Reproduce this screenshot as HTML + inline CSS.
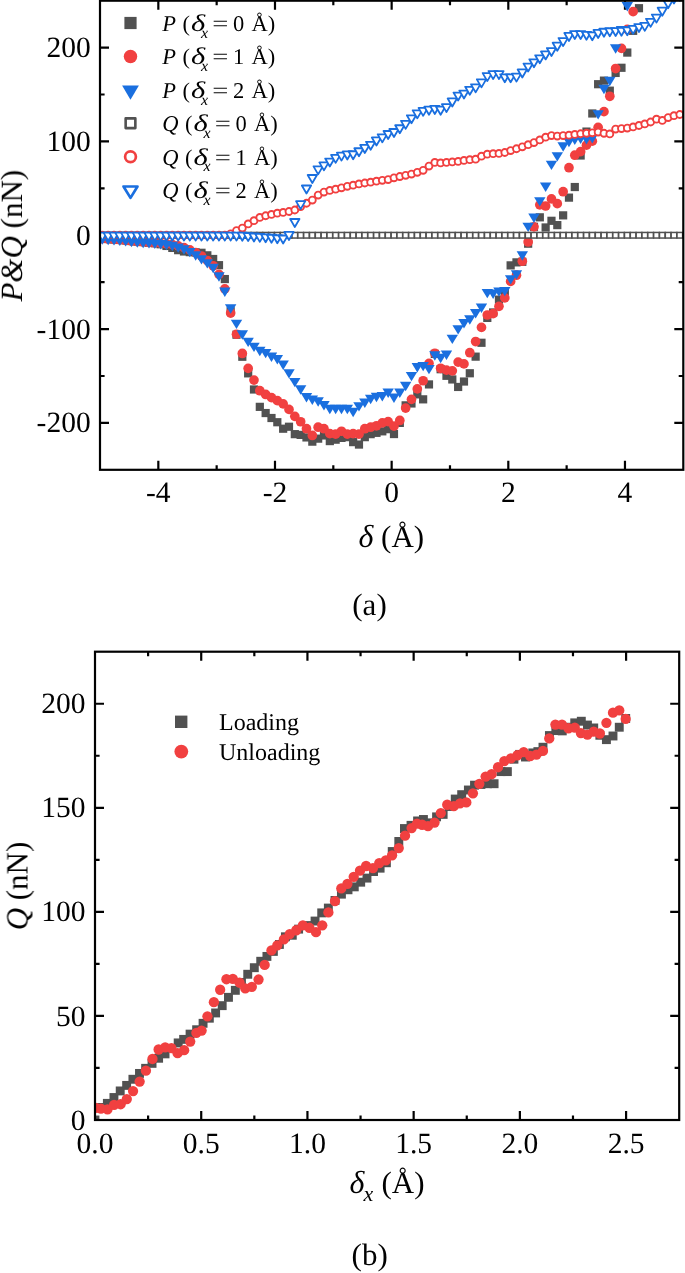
<!DOCTYPE html>
<html lang="en"><head><meta charset="utf-8"><title>Figure: P&amp;Q vs delta</title>
<style>html,body{margin:0;padding:0;background:#fff}svg{display:block}text{font-family:"Liberation Serif","Times New Roman",serif;fill:#000;text-rendering:geometricPrecision}.i{font-style:italic}</style></head><body>
<svg width="685" height="1273" viewBox="0 0 685 1273">
<rect width="685" height="1273" fill="#fff"/>
<g opacity="0.999">
<defs><clipPath id="ca"><rect x="100" y="0.7" width="583.3" height="469.1"/></clipPath><clipPath id="cb"><rect x="95" y="651.7" width="584.2" height="468.3"/></clipPath></defs>
<path d="M158.33 469.8v-9M158.33 0.7v9M274.99 469.8v-9M274.99 0.7v9M391.65 469.8v-9M391.65 0.7v9M508.31 469.8v-9M508.31 0.7v9M624.97 469.8v-9M624.97 0.7v9M216.66 469.8v-4.6M216.66 0.7v4.6M333.32 469.8v-4.6M333.32 0.7v4.6M449.98 469.8v-4.6M449.98 0.7v4.6M566.64 469.8v-4.6M566.64 0.7v4.6M100 422.89h9M683.3 422.89h-9M100 329.07h9M683.3 329.07h-9M100 235.25h9M683.3 235.25h-9M100 141.43h9M683.3 141.43h-9M100 47.61h9M683.3 47.61h-9M100 375.98h4.6M683.3 375.98h-4.6M100 282.16h4.6M683.3 282.16h-4.6M100 188.34h4.6M683.3 188.34h-4.6M100 94.52h4.6M683.3 94.52h-4.6" stroke="#000" stroke-width="2.2" fill="none"/>
<g clip-path="url(#ca)">
<g><rect x="98.23" y="234.53" width="8.2" height="8.2" fill="#515151"/><rect x="104.06" y="234.97" width="8.2" height="8.2" fill="#515151"/><rect x="109.9" y="235.4" width="8.2" height="8.2" fill="#515151"/><rect x="115.73" y="235.84" width="8.2" height="8.2" fill="#515151"/><rect x="121.56" y="236.4" width="8.2" height="8.2" fill="#515151"/><rect x="127.4" y="236.97" width="8.2" height="8.2" fill="#515151"/><rect x="133.23" y="237.48" width="8.2" height="8.2" fill="#515151"/><rect x="139.06" y="238" width="8.2" height="8.2" fill="#515151"/><rect x="144.89" y="238.61" width="8.2" height="8.2" fill="#515151"/><rect x="150.73" y="239.22" width="8.2" height="8.2" fill="#515151"/><rect x="156.56" y="240.16" width="8.2" height="8.2" fill="#515151"/><rect x="162.39" y="241.85" width="8.2" height="8.2" fill="#515151"/><rect x="168.23" y="243.82" width="8.2" height="8.2" fill="#515151"/><rect x="174.06" y="246.07" width="8.2" height="8.2" fill="#515151"/><rect x="179.89" y="247.38" width="8.2" height="8.2" fill="#515151"/><rect x="185.72" y="248.04" width="8.2" height="8.2" fill="#515151"/><rect x="191.56" y="248.32" width="8.2" height="8.2" fill="#515151"/><rect x="197.39" y="248.69" width="8.2" height="8.2" fill="#515151"/><rect x="203.22" y="251.23" width="8.2" height="8.2" fill="#515151"/><rect x="209.06" y="254.89" width="8.2" height="8.2" fill="#515151"/><rect x="214.89" y="261.08" width="8.2" height="8.2" fill="#515151"/><rect x="220.72" y="274.96" width="8.2" height="8.2" fill="#515151"/><rect x="226.56" y="307.14" width="8.2" height="8.2" fill="#515151"/><rect x="232.39" y="330.6" width="8.2" height="8.2" fill="#515151"/><rect x="238.22" y="352.65" width="8.2" height="8.2" fill="#515151"/><rect x="244.06" y="369.25" width="8.2" height="8.2" fill="#515151"/><rect x="249.89" y="385.39" width="8.2" height="8.2" fill="#515151"/><rect x="255.72" y="402.75" width="8.2" height="8.2" fill="#515151"/><rect x="261.55" y="408.94" width="8.2" height="8.2" fill="#515151"/><rect x="267.39" y="413.91" width="8.2" height="8.2" fill="#515151"/><rect x="273.22" y="418.13" width="8.2" height="8.2" fill="#515151"/><rect x="279.05" y="424.61" width="8.2" height="8.2" fill="#515151"/><rect x="284.89" y="422.64" width="8.2" height="8.2" fill="#515151"/><rect x="290.72" y="430.05" width="8.2" height="8.2" fill="#515151"/><rect x="296.55" y="430.8" width="8.2" height="8.2" fill="#515151"/><rect x="302.38" y="433.33" width="8.2" height="8.2" fill="#515151"/><rect x="308.22" y="437.55" width="8.2" height="8.2" fill="#515151"/><rect x="314.05" y="434.55" width="8.2" height="8.2" fill="#515151"/><rect x="319.88" y="431.36" width="8.2" height="8.2" fill="#515151"/><rect x="325.72" y="436.99" width="8.2" height="8.2" fill="#515151"/><rect x="331.55" y="435.58" width="8.2" height="8.2" fill="#515151"/><rect x="337.38" y="433.8" width="8.2" height="8.2" fill="#515151"/><rect x="343.22" y="433.05" width="8.2" height="8.2" fill="#515151"/><rect x="349.05" y="438.02" width="8.2" height="8.2" fill="#515151"/><rect x="354.88" y="440.46" width="8.2" height="8.2" fill="#515151"/><rect x="360.71" y="433.05" width="8.2" height="8.2" fill="#515151"/><rect x="366.55" y="430.05" width="8.2" height="8.2" fill="#515151"/><rect x="372.38" y="428.73" width="8.2" height="8.2" fill="#515151"/><rect x="378.21" y="427.23" width="8.2" height="8.2" fill="#515151"/><rect x="384.05" y="425.08" width="8.2" height="8.2" fill="#515151"/><rect x="389.88" y="429.95" width="8.2" height="8.2" fill="#515151"/><rect x="395.71" y="418.79" width="8.2" height="8.2" fill="#515151"/><rect x="401.55" y="401.25" width="8.2" height="8.2" fill="#515151"/><rect x="407.38" y="399.37" width="8.2" height="8.2" fill="#515151"/><rect x="413.21" y="390.27" width="8.2" height="8.2" fill="#515151"/><rect x="419.04" y="395.24" width="8.2" height="8.2" fill="#515151"/><rect x="424.88" y="380.32" width="8.2" height="8.2" fill="#515151"/><rect x="430.71" y="349.83" width="8.2" height="8.2" fill="#515151"/><rect x="436.54" y="365.12" width="8.2" height="8.2" fill="#515151"/><rect x="442.38" y="371.69" width="8.2" height="8.2" fill="#515151"/><rect x="448.21" y="375.35" width="8.2" height="8.2" fill="#515151"/><rect x="454.04" y="382.86" width="8.2" height="8.2" fill="#515151"/><rect x="459.88" y="377.42" width="8.2" height="8.2" fill="#515151"/><rect x="465.71" y="369.16" width="8.2" height="8.2" fill="#515151"/><rect x="471.54" y="352.55" width="8.2" height="8.2" fill="#515151"/><rect x="477.38" y="338.67" width="8.2" height="8.2" fill="#515151"/><rect x="483.21" y="313.81" width="8.2" height="8.2" fill="#515151"/><rect x="489.04" y="308.36" width="8.2" height="8.2" fill="#515151"/><rect x="494.87" y="295.51" width="8.2" height="8.2" fill="#515151"/><rect x="500.71" y="287.44" width="8.2" height="8.2" fill="#515151"/><rect x="506.54" y="261.27" width="8.2" height="8.2" fill="#515151"/><rect x="512.37" y="258.26" width="8.2" height="8.2" fill="#515151"/><rect x="518.21" y="257.7" width="8.2" height="8.2" fill="#515151"/><rect x="524.04" y="239.59" width="8.2" height="8.2" fill="#515151"/><rect x="529.87" y="222.71" width="8.2" height="8.2" fill="#515151"/><rect x="535.71" y="213.23" width="8.2" height="8.2" fill="#515151"/><rect x="541.54" y="223.36" width="8.2" height="8.2" fill="#515151"/><rect x="547.37" y="216.7" width="8.2" height="8.2" fill="#515151"/><rect x="553.2" y="221.02" width="8.2" height="8.2" fill="#515151"/><rect x="559.04" y="211.26" width="8.2" height="8.2" fill="#515151"/><rect x="564.87" y="193.53" width="8.2" height="8.2" fill="#515151"/><rect x="570.7" y="182.93" width="8.2" height="8.2" fill="#515151"/><rect x="576.54" y="151.4" width="8.2" height="8.2" fill="#515151"/><rect x="582.37" y="127.48" width="8.2" height="8.2" fill="#515151"/><rect x="588.2" y="109.37" width="8.2" height="8.2" fill="#515151"/><rect x="594.03" y="80.1" width="8.2" height="8.2" fill="#515151"/><rect x="599.87" y="76.53" width="8.2" height="8.2" fill="#515151"/><rect x="605.7" y="86.57" width="8.2" height="8.2" fill="#515151"/><rect x="611.53" y="68.84" width="8.2" height="8.2" fill="#515151"/><rect x="617.37" y="63.68" width="8.2" height="8.2" fill="#515151"/><rect x="623.2" y="48.48" width="8.2" height="8.2" fill="#515151"/><rect x="629.03" y="26.72" width="8.2" height="8.2" fill="#515151"/><rect x="634.87" y="4.11" width="8.2" height="8.2" fill="#515151"/></g>
<g><circle cx="102.33" cy="238.63" r="4.85" fill="#F14040"/><circle cx="108.16" cy="239.07" r="4.85" fill="#F14040"/><circle cx="114" cy="239.5" r="4.85" fill="#F14040"/><circle cx="119.83" cy="239.94" r="4.85" fill="#F14040"/><circle cx="125.66" cy="240.5" r="4.85" fill="#F14040"/><circle cx="131.5" cy="241.07" r="4.85" fill="#F14040"/><circle cx="137.33" cy="241.58" r="4.85" fill="#F14040"/><circle cx="143.16" cy="242.1" r="4.85" fill="#F14040"/><circle cx="148.99" cy="242.51" r="4.85" fill="#F14040"/><circle cx="154.83" cy="242.91" r="4.85" fill="#F14040"/><circle cx="160.66" cy="243.32" r="4.85" fill="#F14040"/><circle cx="166.49" cy="243.88" r="4.85" fill="#F14040"/><circle cx="172.33" cy="244.63" r="4.85" fill="#F14040"/><circle cx="178.16" cy="245.85" r="4.85" fill="#F14040"/><circle cx="183.99" cy="247.63" r="4.85" fill="#F14040"/><circle cx="189.82" cy="249.89" r="4.85" fill="#F14040"/><circle cx="195.66" cy="252.61" r="4.85" fill="#F14040"/><circle cx="201.49" cy="255.98" r="4.85" fill="#F14040"/><circle cx="207.32" cy="260.49" r="4.85" fill="#F14040"/><circle cx="213.16" cy="265.74" r="4.85" fill="#F14040"/><circle cx="218.99" cy="274.37" r="4.85" fill="#F14040"/><circle cx="224.82" cy="288.92" r="4.85" fill="#F14040"/><circle cx="230.66" cy="313.03" r="4.85" fill="#F14040"/><circle cx="236.49" cy="334.23" r="4.85" fill="#F14040"/><circle cx="242.32" cy="353.46" r="4.85" fill="#F14040"/><circle cx="248.16" cy="368.38" r="4.85" fill="#F14040"/><circle cx="253.99" cy="380.11" r="4.85" fill="#F14040"/><circle cx="259.82" cy="390.71" r="4.85" fill="#F14040"/><circle cx="265.65" cy="394.46" r="4.85" fill="#F14040"/><circle cx="271.49" cy="397.65" r="4.85" fill="#F14040"/><circle cx="277.32" cy="400.65" r="4.85" fill="#F14040"/><circle cx="283.15" cy="403.94" r="4.85" fill="#F14040"/><circle cx="288.99" cy="409.38" r="4.85" fill="#F14040"/><circle cx="294.82" cy="416.32" r="4.85" fill="#F14040"/><circle cx="300.65" cy="421.76" r="4.85" fill="#F14040"/><circle cx="306.49" cy="428.71" r="4.85" fill="#F14040"/><circle cx="312.32" cy="435.46" r="4.85" fill="#F14040"/><circle cx="318.15" cy="427.21" r="4.85" fill="#F14040"/><circle cx="323.98" cy="428.71" r="4.85" fill="#F14040"/><circle cx="329.82" cy="433.68" r="4.85" fill="#F14040"/><circle cx="335.65" cy="434.15" r="4.85" fill="#F14040"/><circle cx="341.48" cy="431.24" r="4.85" fill="#F14040"/><circle cx="347.32" cy="434.15" r="4.85" fill="#F14040"/><circle cx="353.15" cy="433.68" r="4.85" fill="#F14040"/><circle cx="358.98" cy="434.15" r="4.85" fill="#F14040"/><circle cx="364.81" cy="428.71" r="4.85" fill="#F14040"/><circle cx="370.65" cy="427.21" r="4.85" fill="#F14040"/><circle cx="376.48" cy="425.8" r="4.85" fill="#F14040"/><circle cx="382.31" cy="422.89" r="4.85" fill="#F14040"/><circle cx="388.15" cy="421.67" r="4.85" fill="#F14040"/><circle cx="393.98" cy="426.17" r="4.85" fill="#F14040"/><circle cx="399.81" cy="420.45" r="4.85" fill="#F14040"/><circle cx="405.65" cy="408.07" r="4.85" fill="#F14040"/><circle cx="411.48" cy="399.34" r="4.85" fill="#F14040"/><circle cx="417.31" cy="388.93" r="4.85" fill="#F14040"/><circle cx="423.14" cy="380.76" r="4.85" fill="#F14040"/><circle cx="428.98" cy="363.31" r="4.85" fill="#F14040"/><circle cx="434.81" cy="353.28" r="4.85" fill="#F14040"/><circle cx="440.64" cy="368.29" r="4.85" fill="#F14040"/><circle cx="446.48" cy="370.07" r="4.85" fill="#F14040"/><circle cx="452.31" cy="370.82" r="4.85" fill="#F14040"/><circle cx="458.14" cy="362.09" r="4.85" fill="#F14040"/><circle cx="463.98" cy="363.88" r="4.85" fill="#F14040"/><circle cx="469.81" cy="352.71" r="4.85" fill="#F14040"/><circle cx="475.64" cy="341.55" r="4.85" fill="#F14040"/><circle cx="481.48" cy="327.38" r="4.85" fill="#F14040"/><circle cx="487.31" cy="315" r="4.85" fill="#F14040"/><circle cx="493.14" cy="313.68" r="4.85" fill="#F14040"/><circle cx="498.97" cy="306.37" r="4.85" fill="#F14040"/><circle cx="504.81" cy="297.92" r="4.85" fill="#F14040"/><circle cx="510.64" cy="281.41" r="4.85" fill="#F14040"/><circle cx="516.47" cy="275.22" r="4.85" fill="#F14040"/><circle cx="522.31" cy="261.24" r="4.85" fill="#F14040"/><circle cx="528.14" cy="242.01" r="4.85" fill="#F14040"/><circle cx="533.97" cy="226.81" r="4.85" fill="#F14040"/><circle cx="539.81" cy="204.85" r="4.85" fill="#F14040"/><circle cx="545.64" cy="205.98" r="4.85" fill="#F14040"/><circle cx="551.47" cy="198.94" r="4.85" fill="#F14040"/><circle cx="557.3" cy="203.63" r="4.85" fill="#F14040"/><circle cx="563.14" cy="191.72" r="4.85" fill="#F14040"/><circle cx="568.97" cy="167.7" r="4.85" fill="#F14040"/><circle cx="574.8" cy="155.22" r="4.85" fill="#F14040"/><circle cx="580.64" cy="151.66" r="4.85" fill="#F14040"/><circle cx="586.47" cy="145.18" r="4.85" fill="#F14040"/><circle cx="592.3" cy="141.15" r="4.85" fill="#F14040"/><circle cx="598.13" cy="127.36" r="4.85" fill="#F14040"/><circle cx="603.97" cy="111.69" r="4.85" fill="#F14040"/><circle cx="609.8" cy="96.3" r="4.85" fill="#F14040"/><circle cx="615.63" cy="68.53" r="4.85" fill="#F14040"/><circle cx="621.47" cy="48.36" r="4.85" fill="#F14040"/><circle cx="627.3" cy="29.32" r="4.85" fill="#F14040"/><circle cx="633.13" cy="11.68" r="4.85" fill="#F14040"/></g>
<g><path d="M96.63 235.31h11.4l-5.7 9.4z" fill="#1A6FDF"/><path d="M102.46 235.74h11.4l-5.7 9.4z" fill="#1A6FDF"/><path d="M108.3 236.18h11.4l-5.7 9.4z" fill="#1A6FDF"/><path d="M114.13 236.62h11.4l-5.7 9.4z" fill="#1A6FDF"/><path d="M119.96 237.18h11.4l-5.7 9.4z" fill="#1A6FDF"/><path d="M125.8 237.75h11.4l-5.7 9.4z" fill="#1A6FDF"/><path d="M131.63 238.26h11.4l-5.7 9.4z" fill="#1A6FDF"/><path d="M137.46 238.78h11.4l-5.7 9.4z" fill="#1A6FDF"/><path d="M143.29 239.22h11.4l-5.7 9.4z" fill="#1A6FDF"/><path d="M149.13 239.65h11.4l-5.7 9.4z" fill="#1A6FDF"/><path d="M154.96 240.09h11.4l-5.7 9.4z" fill="#1A6FDF"/><path d="M160.79 240.84h11.4l-5.7 9.4z" fill="#1A6FDF"/><path d="M166.63 241.87h11.4l-5.7 9.4z" fill="#1A6FDF"/><path d="M172.46 243.38h11.4l-5.7 9.4z" fill="#1A6FDF"/><path d="M178.29 245.35h11.4l-5.7 9.4z" fill="#1A6FDF"/><path d="M184.12 247.97h11.4l-5.7 9.4z" fill="#1A6FDF"/><path d="M189.96 251.26h11.4l-5.7 9.4z" fill="#1A6FDF"/><path d="M195.79 255.2h11.4l-5.7 9.4z" fill="#1A6FDF"/><path d="M201.62 259.14h11.4l-5.7 9.4z" fill="#1A6FDF"/><path d="M207.46 263.73h11.4l-5.7 9.4z" fill="#1A6FDF"/><path d="M213.29 272.37h11.4l-5.7 9.4z" fill="#1A6FDF"/><path d="M219.12 287.56h11.4l-5.7 9.4z" fill="#1A6FDF"/><path d="M224.96 304.36h11.4l-5.7 9.4z" fill="#1A6FDF"/><path d="M230.79 319.65h11.4l-5.7 9.4z" fill="#1A6FDF"/><path d="M236.62 330.25h11.4l-5.7 9.4z" fill="#1A6FDF"/><path d="M242.46 337.66h11.4l-5.7 9.4z" fill="#1A6FDF"/><path d="M248.29 342.64h11.4l-5.7 9.4z" fill="#1A6FDF"/><path d="M254.12 346.86h11.4l-5.7 9.4z" fill="#1A6FDF"/><path d="M259.95 348.92h11.4l-5.7 9.4z" fill="#1A6FDF"/><path d="M265.79 352.58h11.4l-5.7 9.4z" fill="#1A6FDF"/><path d="M271.62 355.11h11.4l-5.7 9.4z" fill="#1A6FDF"/><path d="M277.45 360.56h11.4l-5.7 9.4z" fill="#1A6FDF"/><path d="M283.29 369.19h11.4l-5.7 9.4z" fill="#1A6FDF"/><path d="M289.12 377.91h11.4l-5.7 9.4z" fill="#1A6FDF"/><path d="M294.95 385.32h11.4l-5.7 9.4z" fill="#1A6FDF"/><path d="M300.79 393.02h11.4l-5.7 9.4z" fill="#1A6FDF"/><path d="M306.62 395.55h11.4l-5.7 9.4z" fill="#1A6FDF"/><path d="M312.45 397.24h11.4l-5.7 9.4z" fill="#1A6FDF"/><path d="M318.28 400.99h11.4l-5.7 9.4z" fill="#1A6FDF"/><path d="M324.12 404.75h11.4l-5.7 9.4z" fill="#1A6FDF"/><path d="M329.95 404.75h11.4l-5.7 9.4z" fill="#1A6FDF"/><path d="M335.78 404.75h11.4l-5.7 9.4z" fill="#1A6FDF"/><path d="M341.62 404.75h11.4l-5.7 9.4z" fill="#1A6FDF"/><path d="M347.45 407.75h11.4l-5.7 9.4z" fill="#1A6FDF"/><path d="M353.28 402.21h11.4l-5.7 9.4z" fill="#1A6FDF"/><path d="M359.12 398.55h11.4l-5.7 9.4z" fill="#1A6FDF"/><path d="M364.95 394.8h11.4l-5.7 9.4z" fill="#1A6FDF"/><path d="M370.78 392.83h11.4l-5.7 9.4z" fill="#1A6FDF"/><path d="M376.61 392.08h11.4l-5.7 9.4z" fill="#1A6FDF"/><path d="M382.45 388.51h11.4l-5.7 9.4z" fill="#1A6FDF"/><path d="M388.28 393.49h11.4l-5.7 9.4z" fill="#1A6FDF"/><path d="M394.11 388.51h11.4l-5.7 9.4z" fill="#1A6FDF"/><path d="M399.95 381.85h11.4l-5.7 9.4z" fill="#1A6FDF"/><path d="M405.78 371.91h11.4l-5.7 9.4z" fill="#1A6FDF"/><path d="M411.61 363h11.4l-5.7 9.4z" fill="#1A6FDF"/><path d="M417.44 361.96h11.4l-5.7 9.4z" fill="#1A6FDF"/><path d="M423.28 364.97h11.4l-5.7 9.4z" fill="#1A6FDF"/><path d="M429.11 351.27h11.4l-5.7 9.4z" fill="#1A6FDF"/><path d="M434.94 353.8h11.4l-5.7 9.4z" fill="#1A6FDF"/><path d="M440.78 350.52h11.4l-5.7 9.4z" fill="#1A6FDF"/><path d="M446.61 334.66h11.4l-5.7 9.4z" fill="#1A6FDF"/><path d="M452.44 325.19h11.4l-5.7 9.4z" fill="#1A6FDF"/><path d="M458.28 318.99h11.4l-5.7 9.4z" fill="#1A6FDF"/><path d="M464.11 315.34h11.4l-5.7 9.4z" fill="#1A6FDF"/><path d="M469.94 309.05h11.4l-5.7 9.4z" fill="#1A6FDF"/><path d="M475.78 303.61h11.4l-5.7 9.4z" fill="#1A6FDF"/><path d="M481.61 288.88h11.4l-5.7 9.4z" fill="#1A6FDF"/><path d="M487.44 289.53h11.4l-5.7 9.4z" fill="#1A6FDF"/><path d="M493.27 287.47h11.4l-5.7 9.4z" fill="#1A6FDF"/><path d="M499.11 286.91h11.4l-5.7 9.4z" fill="#1A6FDF"/><path d="M504.94 275.18h11.4l-5.7 9.4z" fill="#1A6FDF"/><path d="M510.77 270.21h11.4l-5.7 9.4z" fill="#1A6FDF"/><path d="M516.61 251.26h11.4l-5.7 9.4z" fill="#1A6FDF"/><path d="M522.44 222.64h11.4l-5.7 9.4z" fill="#1A6FDF"/><path d="M528.27 213.54h11.4l-5.7 9.4z" fill="#1A6FDF"/><path d="M534.11 197.22h11.4l-5.7 9.4z" fill="#1A6FDF"/><path d="M539.94 182.58h11.4l-5.7 9.4z" fill="#1A6FDF"/><path d="M545.77 160.63h11.4l-5.7 9.4z" fill="#1A6FDF"/><path d="M551.6 152.18h11.4l-5.7 9.4z" fill="#1A6FDF"/><path d="M557.44 142.24h11.4l-5.7 9.4z" fill="#1A6FDF"/><path d="M563.27 137.83h11.4l-5.7 9.4z" fill="#1A6FDF"/><path d="M569.1 135.48h11.4l-5.7 9.4z" fill="#1A6FDF"/><path d="M574.94 134.54h11.4l-5.7 9.4z" fill="#1A6FDF"/><path d="M580.77 135.01h11.4l-5.7 9.4z" fill="#1A6FDF"/><path d="M586.6 133.98h11.4l-5.7 9.4z" fill="#1A6FDF"/><path d="M592.43 110.15h11.4l-5.7 9.4z" fill="#1A6FDF"/><path d="M598.27 84.82h11.4l-5.7 9.4z" fill="#1A6FDF"/><path d="M604.1 76.84h11.4l-5.7 9.4z" fill="#1A6FDF"/><path d="M609.93 44.29h11.4l-5.7 9.4z" fill="#1A6FDF"/><path d="M615.77 26.09h11.4l-5.7 9.4z" fill="#1A6FDF"/><path d="M621.6 2.07h11.4l-5.7 9.4z" fill="#1A6FDF"/></g>
<g fill="#fff" stroke="#515151" stroke-width="1.5"><rect x="99.53" y="232.45" width="5.6" height="5.6"/><rect x="105.36" y="232.45" width="5.6" height="5.6"/><rect x="111.2" y="232.45" width="5.6" height="5.6"/><rect x="117.03" y="232.45" width="5.6" height="5.6"/><rect x="122.86" y="232.45" width="5.6" height="5.6"/><rect x="128.69" y="232.45" width="5.6" height="5.6"/><rect x="134.53" y="232.45" width="5.6" height="5.6"/><rect x="140.36" y="232.45" width="5.6" height="5.6"/><rect x="146.19" y="232.45" width="5.6" height="5.6"/><rect x="152.03" y="232.45" width="5.6" height="5.6"/><rect x="157.86" y="232.45" width="5.6" height="5.6"/><rect x="163.69" y="232.45" width="5.6" height="5.6"/><rect x="169.53" y="232.45" width="5.6" height="5.6"/><rect x="175.36" y="232.45" width="5.6" height="5.6"/><rect x="181.19" y="232.45" width="5.6" height="5.6"/><rect x="187.02" y="232.45" width="5.6" height="5.6"/><rect x="192.86" y="232.45" width="5.6" height="5.6"/><rect x="198.69" y="232.45" width="5.6" height="5.6"/><rect x="204.52" y="232.45" width="5.6" height="5.6"/><rect x="210.36" y="232.45" width="5.6" height="5.6"/><rect x="216.19" y="232.45" width="5.6" height="5.6"/><rect x="222.02" y="232.45" width="5.6" height="5.6"/><rect x="227.86" y="232.45" width="5.6" height="5.6"/><rect x="233.69" y="232.45" width="5.6" height="5.6"/><rect x="239.52" y="232.45" width="5.6" height="5.6"/><rect x="245.36" y="232.45" width="5.6" height="5.6"/><rect x="251.19" y="232.45" width="5.6" height="5.6"/><rect x="257.02" y="232.45" width="5.6" height="5.6"/><rect x="262.85" y="232.45" width="5.6" height="5.6"/><rect x="268.69" y="232.45" width="5.6" height="5.6"/><rect x="274.52" y="232.45" width="5.6" height="5.6"/><rect x="280.35" y="232.45" width="5.6" height="5.6"/><rect x="286.19" y="232.45" width="5.6" height="5.6"/><rect x="292.02" y="232.45" width="5.6" height="5.6"/><rect x="297.85" y="232.45" width="5.6" height="5.6"/><rect x="303.69" y="232.45" width="5.6" height="5.6"/><rect x="309.52" y="232.45" width="5.6" height="5.6"/><rect x="315.35" y="232.45" width="5.6" height="5.6"/><rect x="321.18" y="232.45" width="5.6" height="5.6"/><rect x="327.02" y="232.45" width="5.6" height="5.6"/><rect x="332.85" y="232.45" width="5.6" height="5.6"/><rect x="338.68" y="232.45" width="5.6" height="5.6"/><rect x="344.52" y="232.45" width="5.6" height="5.6"/><rect x="350.35" y="232.45" width="5.6" height="5.6"/><rect x="356.18" y="232.45" width="5.6" height="5.6"/><rect x="362.01" y="232.45" width="5.6" height="5.6"/><rect x="367.85" y="232.45" width="5.6" height="5.6"/><rect x="373.68" y="232.45" width="5.6" height="5.6"/><rect x="379.51" y="232.45" width="5.6" height="5.6"/><rect x="385.35" y="232.45" width="5.6" height="5.6"/><rect x="391.18" y="232.45" width="5.6" height="5.6"/><rect x="397.01" y="232.45" width="5.6" height="5.6"/><rect x="402.85" y="232.45" width="5.6" height="5.6"/><rect x="408.68" y="232.45" width="5.6" height="5.6"/><rect x="414.51" y="232.45" width="5.6" height="5.6"/><rect x="420.34" y="232.45" width="5.6" height="5.6"/><rect x="426.18" y="232.45" width="5.6" height="5.6"/><rect x="432.01" y="232.45" width="5.6" height="5.6"/><rect x="437.84" y="232.45" width="5.6" height="5.6"/><rect x="443.68" y="232.45" width="5.6" height="5.6"/><rect x="449.51" y="232.45" width="5.6" height="5.6"/><rect x="455.34" y="232.45" width="5.6" height="5.6"/><rect x="461.18" y="232.45" width="5.6" height="5.6"/><rect x="467.01" y="232.45" width="5.6" height="5.6"/><rect x="472.84" y="232.45" width="5.6" height="5.6"/><rect x="478.68" y="232.45" width="5.6" height="5.6"/><rect x="484.51" y="232.45" width="5.6" height="5.6"/><rect x="490.34" y="232.45" width="5.6" height="5.6"/><rect x="496.17" y="232.45" width="5.6" height="5.6"/><rect x="502.01" y="232.45" width="5.6" height="5.6"/><rect x="507.84" y="232.45" width="5.6" height="5.6"/><rect x="513.67" y="232.45" width="5.6" height="5.6"/><rect x="519.51" y="232.45" width="5.6" height="5.6"/><rect x="525.34" y="232.45" width="5.6" height="5.6"/><rect x="531.17" y="232.45" width="5.6" height="5.6"/><rect x="537.01" y="232.45" width="5.6" height="5.6"/><rect x="542.84" y="232.45" width="5.6" height="5.6"/><rect x="548.67" y="232.45" width="5.6" height="5.6"/><rect x="554.5" y="232.45" width="5.6" height="5.6"/><rect x="560.34" y="232.45" width="5.6" height="5.6"/><rect x="566.17" y="232.45" width="5.6" height="5.6"/><rect x="572" y="232.45" width="5.6" height="5.6"/><rect x="577.84" y="232.45" width="5.6" height="5.6"/><rect x="583.67" y="232.45" width="5.6" height="5.6"/><rect x="589.5" y="232.45" width="5.6" height="5.6"/><rect x="595.34" y="232.45" width="5.6" height="5.6"/><rect x="601.17" y="232.45" width="5.6" height="5.6"/><rect x="607" y="232.45" width="5.6" height="5.6"/><rect x="612.83" y="232.45" width="5.6" height="5.6"/><rect x="618.67" y="232.45" width="5.6" height="5.6"/><rect x="624.5" y="232.45" width="5.6" height="5.6"/><rect x="630.33" y="232.45" width="5.6" height="5.6"/><rect x="636.17" y="232.45" width="5.6" height="5.6"/><rect x="642" y="232.45" width="5.6" height="5.6"/><rect x="647.83" y="232.45" width="5.6" height="5.6"/><rect x="653.67" y="232.45" width="5.6" height="5.6"/><rect x="659.5" y="232.45" width="5.6" height="5.6"/><rect x="665.33" y="232.45" width="5.6" height="5.6"/><rect x="671.16" y="232.45" width="5.6" height="5.6"/><rect x="677" y="232.45" width="5.6" height="5.6"/></g>
<g fill="#fff" stroke="#F14040" stroke-width="1.9"><circle cx="102.33" cy="235.25" r="3.45"/><circle cx="108.16" cy="235.25" r="3.45"/><circle cx="114" cy="235.25" r="3.45"/><circle cx="119.83" cy="235.25" r="3.45"/><circle cx="125.66" cy="235.25" r="3.45"/><circle cx="131.5" cy="235.25" r="3.45"/><circle cx="137.33" cy="235.25" r="3.45"/><circle cx="143.16" cy="235.25" r="3.45"/><circle cx="148.99" cy="235.25" r="3.45"/><circle cx="154.83" cy="235.25" r="3.45"/><circle cx="160.66" cy="235.25" r="3.45"/><circle cx="166.49" cy="235.25" r="3.45"/><circle cx="172.33" cy="235.25" r="3.45"/><circle cx="178.16" cy="235.25" r="3.45"/><circle cx="183.99" cy="235.25" r="3.45"/><circle cx="189.82" cy="235.25" r="3.45"/><circle cx="195.66" cy="235.25" r="3.45"/><circle cx="201.49" cy="235.25" r="3.45"/><circle cx="207.32" cy="235.25" r="3.45"/><circle cx="213.16" cy="235.25" r="3.45"/><circle cx="218.99" cy="235.25" r="3.45"/><circle cx="224.82" cy="235.25" r="3.45"/><circle cx="230.66" cy="233.84" r="3.45"/><circle cx="236.49" cy="230.56" r="3.45"/><circle cx="242.32" cy="228.12" r="3.45"/><circle cx="248.16" cy="223.9" r="3.45"/><circle cx="253.99" cy="220.71" r="3.45"/><circle cx="259.82" cy="217.42" r="3.45"/><circle cx="265.65" cy="215.74" r="3.45"/><circle cx="271.49" cy="214.42" r="3.45"/><circle cx="277.32" cy="213.2" r="3.45"/><circle cx="283.15" cy="212.45" r="3.45"/><circle cx="288.99" cy="211.51" r="3.45"/><circle cx="294.82" cy="210.01" r="3.45"/><circle cx="300.65" cy="206.54" r="3.45"/><circle cx="306.49" cy="203.26" r="3.45"/><circle cx="312.32" cy="200.07" r="3.45"/><circle cx="318.15" cy="195.1" r="3.45"/><circle cx="323.98" cy="192.09" r="3.45"/><circle cx="329.82" cy="190.4" r="3.45"/><circle cx="335.65" cy="189.18" r="3.45"/><circle cx="341.48" cy="187.87" r="3.45"/><circle cx="347.32" cy="186.37" r="3.45"/><circle cx="353.15" cy="185.15" r="3.45"/><circle cx="358.98" cy="183.93" r="3.45"/><circle cx="364.81" cy="182.99" r="3.45"/><circle cx="370.65" cy="182.15" r="3.45"/><circle cx="376.48" cy="181.21" r="3.45"/><circle cx="382.31" cy="180.37" r="3.45"/><circle cx="388.15" cy="179.61" r="3.45"/><circle cx="393.98" cy="177.83" r="3.45"/><circle cx="399.81" cy="176.52" r="3.45"/><circle cx="405.65" cy="175.3" r="3.45"/><circle cx="411.48" cy="174.08" r="3.45"/><circle cx="417.31" cy="172.3" r="3.45"/><circle cx="423.14" cy="170.33" r="3.45"/><circle cx="428.98" cy="166.1" r="3.45"/><circle cx="434.81" cy="162.45" r="3.45"/><circle cx="440.64" cy="162.91" r="3.45"/><circle cx="446.48" cy="162.45" r="3.45"/><circle cx="452.31" cy="161.88" r="3.45"/><circle cx="458.14" cy="161.41" r="3.45"/><circle cx="463.98" cy="160.38" r="3.45"/><circle cx="469.81" cy="159.72" r="3.45"/><circle cx="475.64" cy="159.16" r="3.45"/><circle cx="481.48" cy="156.16" r="3.45"/><circle cx="487.31" cy="154.19" r="3.45"/><circle cx="493.14" cy="153.72" r="3.45"/><circle cx="498.97" cy="153.44" r="3.45"/><circle cx="504.81" cy="152.5" r="3.45"/><circle cx="510.64" cy="150.53" r="3.45"/><circle cx="516.47" cy="148.75" r="3.45"/><circle cx="522.31" cy="146.78" r="3.45"/><circle cx="528.14" cy="144.71" r="3.45"/><circle cx="533.97" cy="142.56" r="3.45"/><circle cx="539.81" cy="139.93" r="3.45"/><circle cx="545.64" cy="137.21" r="3.45"/><circle cx="551.47" cy="135.61" r="3.45"/><circle cx="557.3" cy="136.08" r="3.45"/><circle cx="563.14" cy="135.61" r="3.45"/><circle cx="568.97" cy="135.14" r="3.45"/><circle cx="574.8" cy="134.39" r="3.45"/><circle cx="580.64" cy="133.74" r="3.45"/><circle cx="586.47" cy="133.27" r="3.45"/><circle cx="592.3" cy="132.8" r="3.45"/><circle cx="598.13" cy="132.05" r="3.45"/><circle cx="603.97" cy="133.27" r="3.45"/><circle cx="609.8" cy="133.92" r="3.45"/><circle cx="615.63" cy="129.05" r="3.45"/><circle cx="621.47" cy="128.58" r="3.45"/><circle cx="627.3" cy="128.11" r="3.45"/><circle cx="633.13" cy="126.89" r="3.45"/><circle cx="638.97" cy="125.48" r="3.45"/><circle cx="644.8" cy="123.89" r="3.45"/><circle cx="650.63" cy="122.01" r="3.45"/><circle cx="656.47" cy="119.19" r="3.45"/><circle cx="662.3" cy="120.41" r="3.45"/><circle cx="668.13" cy="117.6" r="3.45"/><circle cx="673.96" cy="115.72" r="3.45"/><circle cx="679.8" cy="114.5" r="3.45"/></g>
<g fill="#fff" stroke="#1A6FDF" stroke-width="1.8" stroke-linejoin="round"><path d="M97.68 232.6h9.3l-4.65 8z"/><path d="M103.51 232.6h9.3l-4.65 8z"/><path d="M109.35 232.6h9.3l-4.65 8z"/><path d="M115.18 232.6h9.3l-4.65 8z"/><path d="M121.01 232.6h9.3l-4.65 8z"/><path d="M126.84 232.6h9.3l-4.65 8z"/><path d="M132.68 232.6h9.3l-4.65 8z"/><path d="M138.51 232.6h9.3l-4.65 8z"/><path d="M144.34 232.6h9.3l-4.65 8z"/><path d="M150.18 232.6h9.3l-4.65 8z"/><path d="M156.01 232.6h9.3l-4.65 8z"/><path d="M161.84 232.6h9.3l-4.65 8z"/><path d="M167.68 232.6h9.3l-4.65 8z"/><path d="M173.51 232.6h9.3l-4.65 8z"/><path d="M179.34 232.6h9.3l-4.65 8z"/><path d="M185.17 232.6h9.3l-4.65 8z"/><path d="M191.01 232.6h9.3l-4.65 8z"/><path d="M196.84 232.6h9.3l-4.65 8z"/><path d="M202.67 232.6h9.3l-4.65 8z"/><path d="M208.51 232.6h9.3l-4.65 8z"/><path d="M214.34 232.6h9.3l-4.65 8z"/><path d="M220.17 232.6h9.3l-4.65 8z"/><path d="M226.01 232.6h9.3l-4.65 8z"/><path d="M231.84 232.6h9.3l-4.65 8z"/><path d="M237.67 232.69h9.3l-4.65 8z"/><path d="M243.51 233.09h9.3l-4.65 8z"/><path d="M249.34 233.49h9.3l-4.65 8z"/><path d="M255.17 233.89h9.3l-4.65 8z"/><path d="M261 234.29h9.3l-4.65 8z"/><path d="M266.84 234.76h9.3l-4.65 8z"/><path d="M272.67 235.23h9.3l-4.65 8z"/><path d="M278.5 235.51h9.3l-4.65 8z"/><path d="M284.34 231.94h9.3l-4.65 8z"/><path d="M290.17 218.99h9.3l-4.65 8z"/><path d="M296 201.17h9.3l-4.65 8z"/><path d="M301.84 185.5h9.3l-4.65 8z"/><path d="M307.67 174.99h9.3l-4.65 8z"/><path d="M313.5 166.36h9.3l-4.65 8z"/><path d="M319.33 162.42h9.3l-4.65 8z"/><path d="M325.17 158.57h9.3l-4.65 8z"/><path d="M331 154.92h9.3l-4.65 8z"/><path d="M336.83 152.66h9.3l-4.65 8z"/><path d="M342.67 151.44h9.3l-4.65 8z"/><path d="M348.5 151.26h9.3l-4.65 8z"/><path d="M354.33 148.25h9.3l-4.65 8z"/><path d="M360.17 144.97h9.3l-4.65 8z"/><path d="M366 141.78h9.3l-4.65 8z"/><path d="M371.83 137.47h9.3l-4.65 8z"/><path d="M377.66 134.37h9.3l-4.65 8z"/><path d="M383.5 130.99h9.3l-4.65 8z"/><path d="M389.33 129.02h9.3l-4.65 8z"/><path d="M395.16 125.27h9.3l-4.65 8z"/><path d="M401 120.86h9.3l-4.65 8z"/><path d="M406.83 115.32h9.3l-4.65 8z"/><path d="M412.66 110.35h9.3l-4.65 8z"/><path d="M418.5 107.91h9.3l-4.65 8z"/><path d="M424.33 106.69h9.3l-4.65 8z"/><path d="M430.16 105.94h9.3l-4.65 8z"/><path d="M435.99 106.69h9.3l-4.65 8z"/><path d="M441.83 104.16h9.3l-4.65 8z"/><path d="M447.66 98.44h9.3l-4.65 8z"/><path d="M453.49 92.53h9.3l-4.65 8z"/><path d="M459.33 90.56h9.3l-4.65 8z"/><path d="M465.16 86.8h9.3l-4.65 8z"/><path d="M470.99 84.36h9.3l-4.65 8z"/><path d="M476.83 79.39h9.3l-4.65 8z"/><path d="M482.66 73.1h9.3l-4.65 8z"/><path d="M488.49 71.13h9.3l-4.65 8z"/><path d="M494.32 71.13h9.3l-4.65 8z"/><path d="M500.16 74.32h9.3l-4.65 8z"/><path d="M505.99 74.32h9.3l-4.65 8z"/><path d="M511.82 73.67h9.3l-4.65 8z"/><path d="M517.66 69.45h9.3l-4.65 8z"/><path d="M523.49 63.53h9.3l-4.65 8z"/><path d="M529.32 59.31h9.3l-4.65 8z"/><path d="M535.16 55.28h9.3l-4.65 8z"/><path d="M540.99 51.43h9.3l-4.65 8z"/><path d="M546.82 48.05h9.3l-4.65 8z"/><path d="M552.65 42.71h9.3l-4.65 8z"/><path d="M558.49 38.11h9.3l-4.65 8z"/><path d="M564.32 32.95h9.3l-4.65 8z"/><path d="M570.15 31.07h9.3l-4.65 8z"/><path d="M575.99 31.07h9.3l-4.65 8z"/><path d="M581.82 31.82h9.3l-4.65 8z"/><path d="M587.65 32.29h9.3l-4.65 8z"/><path d="M593.49 29.95h9.3l-4.65 8z"/><path d="M599.32 28.73h9.3l-4.65 8z"/><path d="M605.15 28.26h9.3l-4.65 8z"/><path d="M610.98 28.07h9.3l-4.65 8z"/><path d="M616.82 27.79h9.3l-4.65 8z"/><path d="M622.65 27.23h9.3l-4.65 8z"/><path d="M628.48 25.91h9.3l-4.65 8z"/><path d="M634.32 24.04h9.3l-4.65 8z"/><path d="M640.15 22.91h9.3l-4.65 8z"/><path d="M645.98 18.88h9.3l-4.65 8z"/><path d="M651.82 14.65h9.3l-4.65 8z"/><path d="M657.65 7.71h9.3l-4.65 8z"/><path d="M663.48 0.21h9.3l-4.65 8z"/><path d="M669.31 -4.48h9.3l-4.65 8z"/><path d="M675.15 -7.3h9.3l-4.65 8z"/></g>
</g>
<rect x="100" y="0.7" width="583.3" height="469.1" fill="none" stroke="#000" stroke-width="2.2"/>
<g font-size="29.5" text-anchor="middle">
<text x="158.33" y="502.3">-4</text>
<text x="274.99" y="502.3">-2</text>
<text x="391.65" y="502.3">0</text>
<text x="508.31" y="502.3">2</text>
<text x="624.97" y="502.3">4</text>
</g>
<g font-size="29.5" text-anchor="end">
<text x="90.7" y="432.49">-200</text>
<text x="90.7" y="338.67">-100</text>
<text x="90.7" y="244.85">0</text>
<text x="90.7" y="151.03">100</text>
<text x="90.7" y="57.21">200</text>
</g>
<text font-size="32" class="i" x="358.6" y="547.2">δ</text>
<text font-size="31" x="381.1" y="547.2">(Å)</text>
<text font-size="31" text-anchor="middle" transform="translate(22 235.7) rotate(-90)"><tspan class="i">P&amp;Q</tspan> (nN)</text>
<text font-size="31" text-anchor="middle" x="369.5" y="614.6">(a)</text>
<rect x="124.4" y="16.9" width="12.2" height="12.2" fill="#515151"/>
<text font-size="22.5" y="30.8"><tspan class="i" x="162.3">P</tspan><tspan x="182.5">(</tspan><tspan x="233.1">0</tspan><tspan x="251.6">Å)</tspan></text>
<text font-size="24" class="i" transform="translate(190.9 30.8) scale(1.27 1)">δ</text>
<text font-size="16" class="i" x="201.1" y="37.6">x</text>
<text font-size="22.5" transform="translate(212.3 30.8) scale(1.27 1)">=</text>
<circle cx="130.5" cy="56.45" r="6.75" fill="#F14040"/>
<text font-size="22.5" y="64.25"><tspan class="i" x="162.3">P</tspan><tspan x="182.5">(</tspan><tspan x="233.1">1</tspan><tspan x="251.6">Å)</tspan></text>
<text font-size="24" class="i" transform="translate(190.9 64.25) scale(1.27 1)">δ</text>
<text font-size="16" class="i" x="201.1" y="71.05">x</text>
<text font-size="22.5" transform="translate(212.3 64.25) scale(1.27 1)">=</text>
<path d="M122.1 85.43h16.8l-8.4 14.3z" fill="#1A6FDF"/>
<text font-size="22.5" y="97.7"><tspan class="i" x="162.3">P</tspan><tspan x="182.5">(</tspan><tspan x="233.1">2</tspan><tspan x="251.6">Å)</tspan></text>
<text font-size="24" class="i" transform="translate(190.9 97.7) scale(1.27 1)">δ</text>
<text font-size="16" class="i" x="201.1" y="104.5">x</text>
<text font-size="22.5" transform="translate(212.3 97.7) scale(1.27 1)">=</text>
<rect x="125.65" y="118.4" width="9.7" height="9.7" fill="#fff" stroke="#515151" stroke-width="2.6" stroke-linejoin="round"/>
<text font-size="22.5" y="131.15"><tspan class="i" x="162.3">Q</tspan><tspan x="185">(</tspan><tspan x="235.6">0</tspan><tspan x="254.1">Å)</tspan></text>
<text font-size="24" class="i" transform="translate(193.4 131.15) scale(1.27 1)">δ</text>
<text font-size="16" class="i" x="203.6" y="137.95">x</text>
<text font-size="22.5" transform="translate(214.8 131.15) scale(1.27 1)">=</text>
<circle cx="130.5" cy="156.7" r="5.4" fill="#fff" stroke="#F14040" stroke-width="2.7"/>
<text font-size="22.5" y="164.6"><tspan class="i" x="162.3">Q</tspan><tspan x="185">(</tspan><tspan x="235.6">1</tspan><tspan x="254.1">Å)</tspan></text>
<text font-size="24" class="i" transform="translate(193.4 164.6) scale(1.27 1)">δ</text>
<text font-size="16" class="i" x="203.6" y="171.4">x</text>
<text font-size="22.5" transform="translate(214.8 164.6) scale(1.27 1)">=</text>
<path d="M123.5 186.5h14l-7 11.4z" fill="#fff" stroke="#1A6FDF" stroke-width="2.7" stroke-linejoin="round"/>
<text font-size="22.5" y="198.05"><tspan class="i" x="162.3">Q</tspan><tspan x="185">(</tspan><tspan x="235.6">2</tspan><tspan x="254.1">Å)</tspan></text>
<text font-size="24" class="i" transform="translate(193.4 198.05) scale(1.27 1)">δ</text>
<text font-size="16" class="i" x="203.6" y="204.85">x</text>
<text font-size="22.5" transform="translate(214.8 198.05) scale(1.27 1)">=</text>
<path d="M201.22 1120v-9M201.22 651.7v9M307.44 1120v-9M307.44 651.7v9M413.65 1120v-9M413.65 651.7v9M519.87 1120v-9M519.87 651.7v9M626.09 1120v-9M626.09 651.7v9M148.11 1120v-4.6M148.11 651.7v4.6M254.33 1120v-4.6M254.33 651.7v4.6M360.55 1120v-4.6M360.55 651.7v4.6M466.76 1120v-4.6M466.76 651.7v4.6M572.98 1120v-4.6M572.98 651.7v4.6M95 1015.93h9M679.2 1015.93h-9M95 911.87h9M679.2 911.87h-9M95 807.8h9M679.2 807.8h-9M95 703.73h9M679.2 703.73h-9M95 1067.97h4.6M679.2 1067.97h-4.6M95 963.9h4.6M679.2 963.9h-4.6M95 859.83h4.6M679.2 859.83h-4.6M95 755.77h4.6M679.2 755.77h-4.6" stroke="#000" stroke-width="2.2" fill="none"/>
<g clip-path="url(#cb)">
<g><rect x="90.51" y="1115.55" width="8.9" height="8.9" fill="#515151"/><rect x="96.94" y="1103" width="8.9" height="8.9" fill="#515151"/><rect x="102.92" y="1098.91" width="8.9" height="8.9" fill="#515151"/><rect x="109.49" y="1093.07" width="8.9" height="8.9" fill="#515151"/><rect x="115.77" y="1086.5" width="8.9" height="8.9" fill="#515151"/><rect x="122.19" y="1080.95" width="8.9" height="8.9" fill="#515151"/><rect x="128.47" y="1074.82" width="8.9" height="8.9" fill="#515151"/><rect x="135.04" y="1068.98" width="8.9" height="8.9" fill="#515151"/><rect x="141.17" y="1063.87" width="8.9" height="8.9" fill="#515151"/><rect x="147.59" y="1058.91" width="8.9" height="8.9" fill="#515151"/><rect x="154.16" y="1053.8" width="8.9" height="8.9" fill="#515151"/><rect x="160.59" y="1049.42" width="8.9" height="8.9" fill="#515151"/><rect x="167.01" y="1044.02" width="8.9" height="8.9" fill="#515151"/><rect x="173.73" y="1038.47" width="8.9" height="8.9" fill="#515151"/><rect x="179.2" y="1034.92" width="8.9" height="8.9" fill="#515151"/><rect x="185.62" y="1029.67" width="8.9" height="8.9" fill="#515151"/><rect x="192.19" y="1025.29" width="8.9" height="8.9" fill="#515151"/><rect x="198.62" y="1018.86" width="8.9" height="8.9" fill="#515151"/><rect x="204.89" y="1013.75" width="8.9" height="8.9" fill="#515151"/><rect x="211.17" y="1008.5" width="8.9" height="8.9" fill="#515151"/><rect x="217.74" y="1001.2" width="8.9" height="8.9" fill="#515151"/><rect x="224.02" y="992.88" width="8.9" height="8.9" fill="#515151"/><rect x="230.88" y="985.87" width="8.9" height="8.9" fill="#515151"/><rect x="237.01" y="977.99" width="8.9" height="8.9" fill="#515151"/><rect x="243.29" y="969.81" width="8.9" height="8.9" fill="#515151"/><rect x="249.86" y="963.24" width="8.9" height="8.9" fill="#515151"/><rect x="256.28" y="956.82" width="8.9" height="8.9" fill="#515151"/><rect x="262.48" y="951.96" width="8.9" height="8.9" fill="#515151"/><rect x="268.92" y="946.95" width="8.9" height="8.9" fill="#515151"/><rect x="274.95" y="940" width="8.9" height="8.9" fill="#515151"/><rect x="280.98" y="932.34" width="8.9" height="8.9" fill="#515151"/><rect x="287.83" y="930.8" width="8.9" height="8.9" fill="#515151"/><rect x="294.16" y="924.67" width="8.9" height="8.9" fill="#515151"/><rect x="302.34" y="921.1" width="8.9" height="8.9" fill="#515151"/><rect x="310.61" y="916.6" width="8.9" height="8.9" fill="#515151"/><rect x="317.26" y="908.43" width="8.9" height="8.9" fill="#515151"/><rect x="323.9" y="903.62" width="8.9" height="8.9" fill="#515151"/><rect x="330.55" y="895.99" width="8.9" height="8.9" fill="#515151"/><rect x="336.97" y="889.71" width="8.9" height="8.9" fill="#515151"/><rect x="343.54" y="885.33" width="8.9" height="8.9" fill="#515151"/><rect x="349.82" y="882.41" width="8.9" height="8.9" fill="#515151"/><rect x="356.24" y="877.74" width="8.9" height="8.9" fill="#515151"/><rect x="362.52" y="873.65" width="8.9" height="8.9" fill="#515151"/><rect x="369.09" y="867.08" width="8.9" height="8.9" fill="#515151"/><rect x="375.66" y="863.73" width="8.9" height="8.9" fill="#515151"/><rect x="381.94" y="858.32" width="8.9" height="8.9" fill="#515151"/><rect x="387.78" y="847.08" width="8.9" height="8.9" fill="#515151"/><rect x="394.35" y="837.01" width="8.9" height="8.9" fill="#515151"/><rect x="400" y="824.09" width="8.9" height="8.9" fill="#515151"/><rect x="406.57" y="820.88" width="8.9" height="8.9" fill="#515151"/><rect x="413.14" y="816.5" width="8.9" height="8.9" fill="#515151"/><rect x="418.98" y="815.04" width="8.9" height="8.9" fill="#515151"/><rect x="424.24" y="818.4" width="8.9" height="8.9" fill="#515151"/><rect x="432.12" y="812.41" width="8.9" height="8.9" fill="#515151"/><rect x="438.69" y="809.93" width="8.9" height="8.9" fill="#515151"/><rect x="444.67" y="802.05" width="8.9" height="8.9" fill="#515151"/><rect x="450.81" y="794.6" width="8.9" height="8.9" fill="#515151"/><rect x="457.23" y="790.22" width="8.9" height="8.9" fill="#515151"/><rect x="463.94" y="785.55" width="8.9" height="8.9" fill="#515151"/><rect x="470.08" y="780.73" width="8.9" height="8.9" fill="#515151"/><rect x="476.5" y="780" width="8.9" height="8.9" fill="#515151"/><rect x="483.07" y="779.27" width="8.9" height="8.9" fill="#515151"/><rect x="489.64" y="779.27" width="8.9" height="8.9" fill="#515151"/><rect x="496.5" y="767.16" width="8.9" height="8.9" fill="#515151"/><rect x="502.92" y="767.16" width="8.9" height="8.9" fill="#515151"/><rect x="509.49" y="754.75" width="8.9" height="8.9" fill="#515151"/><rect x="515.19" y="749.93" width="8.9" height="8.9" fill="#515151"/><rect x="521.02" y="752.56" width="8.9" height="8.9" fill="#515151"/><rect x="528.32" y="748.47" width="8.9" height="8.9" fill="#515151"/><rect x="533.43" y="747.16" width="8.9" height="8.9" fill="#515151"/><rect x="538.54" y="742.78" width="8.9" height="8.9" fill="#515151"/><rect x="544.97" y="731.1" width="8.9" height="8.9" fill="#515151"/><rect x="551.39" y="726.13" width="8.9" height="8.9" fill="#515151"/><rect x="557.81" y="726.43" width="8.9" height="8.9" fill="#515151"/><rect x="564.02" y="722.78" width="8.9" height="8.9" fill="#515151"/><rect x="570.29" y="718.4" width="8.9" height="8.9" fill="#515151"/><rect x="576.86" y="716.79" width="8.9" height="8.9" fill="#515151"/><rect x="583" y="720.59" width="8.9" height="8.9" fill="#515151"/><rect x="589.27" y="723.51" width="8.9" height="8.9" fill="#515151"/><rect x="595.4" y="730.81" width="8.9" height="8.9" fill="#515151"/><rect x="601.97" y="735.19" width="8.9" height="8.9" fill="#515151"/><rect x="608.54" y="731.54" width="8.9" height="8.9" fill="#515151"/><rect x="614.82" y="722.78" width="8.9" height="8.9" fill="#515151"/><rect x="621.24" y="714.02" width="8.9" height="8.9" fill="#515151"/></g>
<g><circle cx="95.84" cy="1107.88" r="5.15" fill="#F14040"/><circle cx="100.95" cy="1108.61" r="5.15" fill="#F14040"/><circle cx="107.52" cy="1109.34" r="5.15" fill="#F14040"/><circle cx="114.09" cy="1104.96" r="5.15" fill="#F14040"/><circle cx="120.66" cy="1104.23" r="5.15" fill="#F14040"/><circle cx="126.79" cy="1099.12" r="5.15" fill="#F14040"/><circle cx="133.07" cy="1091.09" r="5.15" fill="#F14040"/><circle cx="139.64" cy="1081.61" r="5.15" fill="#F14040"/><circle cx="145.91" cy="1070.66" r="5.15" fill="#F14040"/><circle cx="152.48" cy="1058.98" r="5.15" fill="#F14040"/><circle cx="158.61" cy="1049.49" r="5.15" fill="#F14040"/><circle cx="165.18" cy="1047.3" r="5.15" fill="#F14040"/><circle cx="171.46" cy="1048.03" r="5.15" fill="#F14040"/><circle cx="177.59" cy="1053.14" r="5.15" fill="#F14040"/><circle cx="184.16" cy="1050.22" r="5.15" fill="#F14040"/><circle cx="190.22" cy="1041.56" r="5.15" fill="#F14040"/><circle cx="196.35" cy="1032.8" r="5.15" fill="#F14040"/><circle cx="201.61" cy="1030.61" r="5.15" fill="#F14040"/><circle cx="207.45" cy="1016.31" r="5.15" fill="#F14040"/><circle cx="213.87" cy="1002.15" r="5.15" fill="#F14040"/><circle cx="220.15" cy="989.74" r="5.15" fill="#F14040"/><circle cx="226.42" cy="979.23" r="5.15" fill="#F14040"/><circle cx="232.85" cy="978.79" r="5.15" fill="#F14040"/><circle cx="239.56" cy="982.73" r="5.15" fill="#F14040"/><circle cx="245.26" cy="988.28" r="5.15" fill="#F14040"/><circle cx="251.82" cy="986.82" r="5.15" fill="#F14040"/><circle cx="258.54" cy="979.52" r="5.15" fill="#F14040"/><circle cx="264.67" cy="964.92" r="5.15" fill="#F14040"/><circle cx="271.46" cy="950.39" r="5.15" fill="#F14040"/><circle cx="277.3" cy="945.28" r="5.15" fill="#F14040"/><circle cx="283.87" cy="939.45" r="5.15" fill="#F14040"/><circle cx="289.71" cy="934.04" r="5.15" fill="#F14040"/><circle cx="296.28" cy="930.25" r="5.15" fill="#F14040"/><circle cx="302.85" cy="925.28" r="5.15" fill="#F14040"/><circle cx="309.42" cy="927.77" r="5.15" fill="#F14040"/><circle cx="315.99" cy="932.15" r="5.15" fill="#F14040"/><circle cx="322.26" cy="925.28" r="5.15" fill="#F14040"/><circle cx="328.39" cy="912.44" r="5.15" fill="#F14040"/><circle cx="334.96" cy="901.05" r="5.15" fill="#F14040"/><circle cx="341.28" cy="888.47" r="5.15" fill="#F14040"/><circle cx="347.41" cy="883.8" r="5.15" fill="#F14040"/><circle cx="353.69" cy="876.79" r="5.15" fill="#F14040"/><circle cx="359.96" cy="870.66" r="5.15" fill="#F14040"/><circle cx="366.09" cy="865.99" r="5.15" fill="#F14040"/><circle cx="372.96" cy="868.03" r="5.15" fill="#F14040"/><circle cx="379.23" cy="863.07" r="5.15" fill="#F14040"/><circle cx="385.8" cy="860.44" r="5.15" fill="#F14040"/><circle cx="392.08" cy="855.33" r="5.15" fill="#F14040"/><circle cx="398.76" cy="848.1" r="5.15" fill="#F14040"/><circle cx="405.04" cy="835.69" r="5.15" fill="#F14040"/><circle cx="411.61" cy="828.1" r="5.15" fill="#F14040"/><circle cx="417.01" cy="823.72" r="5.15" fill="#F14040"/><circle cx="422.12" cy="824.74" r="5.15" fill="#F14040"/><circle cx="427.96" cy="826.2" r="5.15" fill="#F14040"/><circle cx="434.53" cy="822.55" r="5.15" fill="#F14040"/><circle cx="440.8" cy="813.07" r="5.15" fill="#F14040"/><circle cx="447.23" cy="804.74" r="5.15" fill="#F14040"/><circle cx="453.8" cy="806.2" r="5.15" fill="#F14040"/><circle cx="460.07" cy="803.28" r="5.15" fill="#F14040"/><circle cx="466.35" cy="802.41" r="5.15" fill="#F14040"/><circle cx="472.92" cy="793.36" r="5.15" fill="#F14040"/><circle cx="479.34" cy="783.87" r="5.15" fill="#F14040"/><circle cx="485.62" cy="776.57" r="5.15" fill="#F14040"/><circle cx="491.61" cy="774.23" r="5.15" fill="#F14040"/><circle cx="498.03" cy="767.23" r="5.15" fill="#F14040"/><circle cx="504.31" cy="761.09" r="5.15" fill="#F14040"/><circle cx="510.88" cy="758.47" r="5.15" fill="#F14040"/><circle cx="517.45" cy="755.26" r="5.15" fill="#F14040"/><circle cx="523.72" cy="752.04" r="5.15" fill="#F14040"/><circle cx="530.15" cy="755.99" r="5.15" fill="#F14040"/><circle cx="536.42" cy="754.53" r="5.15" fill="#F14040"/><circle cx="542.99" cy="750.88" r="5.15" fill="#F14040"/><circle cx="549.27" cy="738.47" r="5.15" fill="#F14040"/><circle cx="555.4" cy="724.6" r="5.15" fill="#F14040"/><circle cx="561.97" cy="724.6" r="5.15" fill="#F14040"/><circle cx="568.47" cy="728.25" r="5.15" fill="#F14040"/><circle cx="574.74" cy="727.66" r="5.15" fill="#F14040"/><circle cx="580.88" cy="733.07" r="5.15" fill="#F14040"/><circle cx="587.45" cy="734.53" r="5.15" fill="#F14040"/><circle cx="593.72" cy="731.61" r="5.15" fill="#F14040"/><circle cx="599.85" cy="733.5" r="5.15" fill="#F14040"/><circle cx="606.42" cy="722.85" r="5.15" fill="#F14040"/><circle cx="612.99" cy="712.63" r="5.15" fill="#F14040"/><circle cx="619.27" cy="710.44" r="5.15" fill="#F14040"/><circle cx="625.69" cy="718.91" r="5.15" fill="#F14040"/></g>
</g>
<rect x="95" y="651.7" width="584.2" height="468.3" fill="none" stroke="#000" stroke-width="2.2"/>
<g font-size="29.5" text-anchor="middle">
<text x="95" y="1152.8">0.0</text>
<text x="201.22" y="1152.8">0.5</text>
<text x="307.44" y="1152.8">1.0</text>
<text x="413.65" y="1152.8">1.5</text>
<text x="519.87" y="1152.8">2.0</text>
<text x="626.09" y="1152.8">2.5</text>
</g>
<g font-size="29.5" text-anchor="end">
<text x="85.4" y="1129.6">0</text>
<text x="85.4" y="1025.53">50</text>
<text x="85.4" y="921.47">100</text>
<text x="85.4" y="817.4">150</text>
<text x="85.4" y="713.33">200</text>
</g>
<text font-size="32" class="i" x="349.5" y="1193.2">δ</text>
<text font-size="22" class="i" x="363.6" y="1200.6">x</text>
<text font-size="31" x="381.5" y="1193.2">(Å)</text>
<text font-size="31" text-anchor="middle" transform="translate(27.5 886) rotate(-90)"><tspan class="i">Q</tspan> (nN)</text>
<text font-size="31" text-anchor="middle" x="369.7" y="1265.2">(b)</text>
<rect x="175" y="715.6" width="12.4" height="12.4" fill="#515151"/>
<circle cx="181.3" cy="751.6" r="6.9" fill="#F14040"/>
<text font-size="24" x="219" y="730.2">Loading</text>
<text font-size="24" x="219" y="759.9">Unloading</text>
</g>
</svg></body></html>
